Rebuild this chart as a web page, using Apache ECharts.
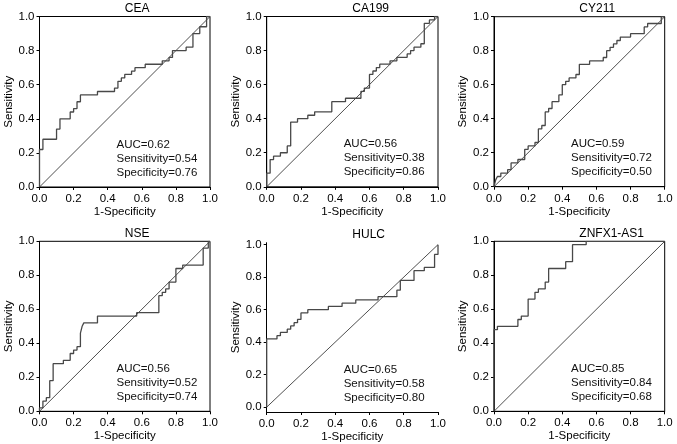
<!DOCTYPE html>
<html>
<head>
<meta charset="utf-8">
<script src="https://cdn.jsdelivr.net/npm/echarts@6/dist/echarts.min.js"></script>
<style>
  html, body { margin: 0; padding: 0; background: #fff; }
  #chart { width: 677px; height: 444px; }
</style>
</head>
<body>
<div id="chart"></div>
<script>
// panel names and the stats printed in each panel
const markers = ['CEA', 'CA199', 'CY211', 'NSE', 'HULC', 'ZNFX1-AS1'];
const aucValues = ['0.62', '0.56', '0.59', '0.56', '0.65', '0.85'];
const sensValues = ['0.54', '0.38', '0.72', '0.52', '0.58', '0.84'];
const specValues = ['0.76', '0.86', '0.50', '0.74', '0.80', '0.68'];
const tickValues = [0, 0.2, 0.4, 0.6, 0.8, 1.0];

// ROC corners: at each fpr the sensitivity jumps to tpr
const ceaFpr = [0, 0, 0.02, 0.10, 0.12, 0.18, 0.20, 0.22, 0.24, 0.34, 0.44, 0.46, 0.48, 0.50, 0.54, 0.56, 0.62, 0.72, 0.76, 0.78, 0.86, 0.90, 0.94, 0.98, 1.0];
const ceaTpr = [0, 0.22, 0.28, 0.34, 0.40, 0.44, 0.46, 0.50, 0.54, 0.56, 0.58, 0.62, 0.64, 0.66, 0.68, 0.70, 0.72, 0.74, 0.76, 0.80, 0.82, 0.90, 0.94, 1.0, 1.0];

const ca199Fpr = [0, 0, 0.02, 0.04, 0.08, 0.12, 0.14, 0.18, 0.24, 0.28, 0.38, 0.46, 0.55, 0.57, 0.60, 0.62, 0.64, 0.66, 0.72, 0.76, 0.82, 0.84, 0.86, 0.90, 0.92, 0.95, 0.98, 1.0];
const ca199Tpr = [0, 0.08, 0.16, 0.18, 0.20, 0.24, 0.38, 0.40, 0.42, 0.44, 0.50, 0.52, 0.56, 0.58, 0.66, 0.68, 0.70, 0.72, 0.74, 0.76, 0.78, 0.80, 0.82, 0.84, 0.96, 0.98, 1.0, 1.0];

const cy211Fpr = [0, 0.01, 0.02, 0.04, 0.08, 0.10, 0.14, 0.18, 0.20, 0.24, 0.26, 0.28, 0.30, 0.32, 0.34, 0.38, 0.40, 0.42, 0.44, 0.48, 0.50, 0.56, 0.64, 0.66, 0.68, 0.70, 0.72, 0.74, 0.80, 0.88, 0.90, 0.98, 1.0];
const cy211Tpr = [0, 0.04, 0.06, 0.08, 0.10, 0.14, 0.16, 0.22, 0.24, 0.26, 0.34, 0.36, 0.44, 0.46, 0.50, 0.54, 0.60, 0.62, 0.64, 0.66, 0.72, 0.74, 0.76, 0.80, 0.82, 0.84, 0.86, 0.88, 0.90, 0.94, 0.96, 1.0, 1.0];

const nseFpr = [0, 0, 0.02, 0.04, 0.06, 0.08, 0.14, 0.18, 0.20, 0.22, 0.24, 0.25, 0.26, 0.34, 0.57, 0.70, 0.72, 0.74, 0.76, 0.80, 0.84, 0.96, 0.99, 1.0];
const nseTpr = [0, 0.02, 0.06, 0.08, 0.18, 0.28, 0.30, 0.34, 0.36, 0.38, 0.46, 0.50, 0.52, 0.56, 0.58, 0.68, 0.70, 0.72, 0.76, 0.84, 0.86, 0.96, 1.0, 1.0];

const hulcFpr = [0, 0, 0.06, 0.08, 0.12, 0.14, 0.16, 0.18, 0.20, 0.24, 0.36, 0.44, 0.52, 0.65, 0.76, 0.78, 0.86, 0.92, 0.98, 1.0];
const hulcTpr = [0, 0.42, 0.44, 0.46, 0.48, 0.50, 0.52, 0.54, 0.58, 0.60, 0.62, 0.64, 0.66, 0.68, 0.72, 0.78, 0.84, 0.86, 0.94, 1.0];

const znfxFpr = [0, 0, 0.02, 0.14, 0.16, 0.20, 0.24, 0.26, 0.30, 0.32, 0.42, 0.46, 0.54, 1.0];
const znfxTpr = [0, 0.48, 0.50, 0.54, 0.56, 0.66, 0.70, 0.72, 0.76, 0.84, 0.88, 0.98, 1.0, 1.0];

// chance line
const diagX = [0, 1];
const diagY = [0, 1];

const curves = [
  [ceaFpr, ceaTpr], [ca199Fpr, ca199Tpr], [cy211Fpr, cy211Tpr],
  [nseFpr, nseTpr], [hulcFpr, hulcTpr], [znfxFpr, znfxTpr]
];

// plot boxes in px (HULC is drawn a little differently in the source)
const boxes = [
  { left: 39.5, top: 16.5, width: 170.5, height: 170.5, frame: true },
  { left: 266.7, top: 16.5, width: 171.3, height: 170.3, frame: true },
  { left: 494, top: 16.7, width: 170.7, height: 170, frame: true },
  { left: 39.5, top: 241.3, width: 170.5, height: 170, frame: true },
  { left: 266.7, top: 242.7, width: 171.3, height: 169.3, frame: false, yMin: -0.03, yMax: 1.012 },
  { left: 494, top: 241.3, width: 170.7, height: 170, frame: true }
];

const font = 'Liberation Sans, Arial, Helvetica, sans-serif';
const fmt = v => v.toFixed(1);
const zip = (xs, ys) => xs.map((x, i) => [x, ys[i]]);

const chart = echarts.init(document.getElementById('chart'), null, { renderer: 'canvas' });

const grids = [], xAxes = [], yAxes = [], series = [], graphics = [];

boxes.forEach((b, i) => {
  grids.push({
    left: b.left, top: b.top, width: b.width, height: b.height,
    show: b.frame, borderColor: '#000', borderWidth: 1,
    backgroundColor: 'transparent',
    outerBoundsMode: 'none'
  });

  const axisCommon = {
    type: 'value',
    gridIndex: i,
    axisLine: { show: true, onZero: false, lineStyle: { color: '#000', width: 1 } },
    axisTick: { show: true, length: 3, lineStyle: { color: '#000' } },
    splitLine: { show: false },
    nameLocation: 'middle',
    nameTextStyle: { color: '#000', fontSize: 11.5, fontFamily: font }
  };

  xAxes.push(Object.assign({}, axisCommon, {
    min: 0, max: 1, interval: 0.2,
    name: '1-Specificity', nameGap: 16,
    axisLabel: { color: '#000', fontSize: 11.5, fontFamily: font, margin: 6, formatter: fmt }
  }));

  const y = Object.assign({}, axisCommon, {
    name: 'Sensitivity', nameGap: 23,
    axisLabel: { color: '#000', fontSize: 11.5, fontFamily: font, margin: 5, formatter: fmt }
  });
  if (b.yMin !== undefined) {
    y.min = b.yMin; y.max = b.yMax;
    y.axisLabel.customValues = tickValues;
    y.axisTick = Object.assign({}, y.axisTick, { customValues: tickValues });
  } else {
    y.min = 0; y.max = 1; y.interval = 0.2;
  }
  yAxes.push(y);

  series.push({
    type: 'line', xAxisIndex: i, yAxisIndex: i,
    data: zip(diagX, diagY), symbol: 'none', silent: true,
    lineStyle: { color: '#222', width: 0.8 }
  });
  series.push({
    type: 'line', xAxisIndex: i, yAxisIndex: i,
    data: zip(curves[i][0], curves[i][1]), step: 'end', symbol: 'none',
    lineStyle: { color: '#484848', width: 1.3 }
  });

  graphics.push({
    type: 'text', left: b.left + b.width / 2, top: b.top - 14,
    style: { text: markers[i], fill: '#000', font: '12px ' + font, textAlign: 'center' }
  });

  const tx = b.left + 77;
  const bottom = b.top + b.height;
  [['AUC=', aucValues[i], 42.5], ['Sensitivity=', sensValues[i], 28.5], ['Specificity=', specValues[i], 14.5]]
    .forEach(([label, val, dy]) => {
      graphics.push({
        type: 'text', x: tx, y: bottom - dy,
        style: { text: label + val, fill: '#111', font: '11.5px ' + font, textVerticalAlign: 'middle' }
      });
    });
});

chart.setOption({
  animation: false,
  backgroundColor: '#fff',
  grid: grids,
  xAxis: xAxes,
  yAxis: yAxes,
  series: series,
  graphic: graphics
});
</script>
</body>
</html>
